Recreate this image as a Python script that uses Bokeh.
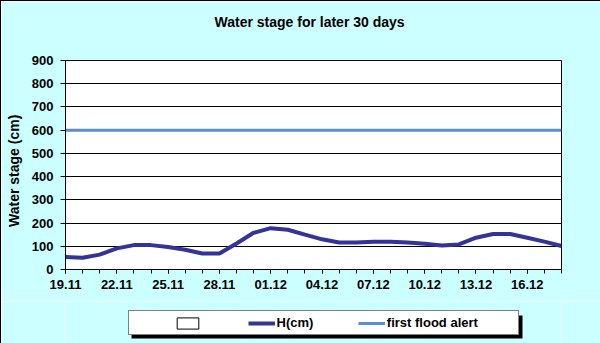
from bokeh.plotting import figure
from bokeh.layouts import column
from bokeh.models import (Range1d, FixedTicker, Legend, LegendItem,
                          ColumnDataSource, BoxAnnotation, Title)
from bokeh.embed import file_html
from bokeh.resources import INLINE

# ---- data ----
dates = ["19.11", "20.11", "21.11", "22.11", "23.11", "24.11", "25.11", "26.11",
         "27.11", "28.11", "29.11", "30.11", "01.12", "02.12", "03.12", "04.12",
         "05.12", "06.12", "07.12", "08.12", "09.12", "10.12", "11.12", "12.12",
         "13.12", "14.12", "15.12", "16.12", "17.12", "18.12"]
h_cm = [54, 51, 64, 91, 105, 105, 97, 85, 69, 69, 112, 158, 178, 171, 150, 130,
        116, 116, 120, 120, 116, 111, 103, 108, 137, 153, 153, 137, 120, 101]
alert_cm = [600] * len(dates)
y_ticks = [0, 100, 200, 300, 400, 500, 600, 700, 800, 900]
series_names = ["", "H(cm)", "first flood alert"]
chart_title = "Water stage for later 30 days"
y_title = "Water stage (cm)"

idx = list(range(len(dates)))
label_idx = idx[::3]

BG = "#CCFFFF"
FONT = "Liberation Sans"
FS = "13px"
NB = "\u00a0"
H_COLOR = "#333399"
A_COLOR = "#5B8ED6"

# ================= main chart =================
p = figure(width=600, height=300, output_backend="svg", toolbar_location=None,
           title=None,
           x_range=Range1d(0, len(dates) - 1), y_range=Range1d(0, 900),
           min_border_left=64, min_border_right=40, min_border_top=59,
           min_border_bottom=32)
p.background_fill_color = "white"
p.border_fill_color = BG
p.outline_line_color = "black"
p.outline_line_width = 1

# spacer title (closest to frame) then the real title above it
p.add_layout(Title(text=" ", text_font=FONT, text_font_size=FS, standoff=13),
             "above")
p.add_layout(Title(text=chart_title, align="left", offset=149,
                   vertical_align="middle",
                   text_font=FONT, text_font_style="bold", text_font_size="14px",
                   text_color="black", standoff=0), "above")

src = ColumnDataSource(dict(x=idx, h=h_cm, a=alert_cm))
p.line("x", "a", source=src, line_color=A_COLOR, line_width=3)
p.line("x", "h", source=src, line_color=H_COLOR, line_width=4)

p.xgrid.grid_line_color = None
p.ygrid.grid_line_color = "black"
p.ygrid.grid_line_width = 1
p.ygrid.ticker = FixedTicker(ticks=y_ticks)

ya = p.yaxis[0]
ya.ticker = FixedTicker(ticks=y_ticks)
ya.axis_label = y_title + NB * 3
ya.axis_label_text_font = FONT
ya.axis_label_text_font_style = "bold"
ya.axis_label_text_font_size = "14px"
ya.axis_label_text_color = "black"
ya.axis_label_standoff = 7
ya.major_label_text_font = FONT
ya.major_label_text_font_style = "bold"
ya.major_label_text_font_size = FS
ya.major_label_text_color = "black"
ya.major_tick_out = 5
ya.major_tick_in = 0
ya.minor_tick_out = 0
ya.minor_tick_in = 0
ya.major_label_standoff = 7
ya.axis_line_color = "black"
ya.major_tick_line_color = "black"

xa = p.xaxis[0]
xa.ticker = FixedTicker(ticks=label_idx, minor_ticks=idx)
xa.major_label_overrides = {i: dates[i] for i in label_idx}
xa.major_label_text_font = FONT
xa.major_label_text_font_style = "bold"
xa.major_label_text_font_size = FS
xa.major_label_text_color = "black"
xa.major_tick_out = 4
xa.major_tick_in = 0
xa.minor_tick_out = 4
xa.minor_tick_in = 0
xa.major_label_standoff = 6
xa.axis_line_color = "black"
xa.major_tick_line_color = "black"
xa.minor_tick_line_color = "black"

# ================= legend strip =================
lg = figure(width=600, height=43, output_backend="svg", toolbar_location=None,
            x_range=Range1d(0, 600), y_range=Range1d(0, 43),
            x_axis_location=None, y_axis_location=None,
            min_border_left=0, min_border_right=0, min_border_top=0,
            min_border_bottom=0)
lg.background_fill_color = BG
lg.border_fill_color = BG
lg.outline_line_color = None
lg.grid.visible = False

r_spacer = lg.line(x=[-100, -99], y=[-100, -100], line_alpha=0)
r_box = lg.rect(x=[-100], y=[-100], width=1, height=1, fill_color="white",
                line_color="black")
r_h = lg.line(x=[-100, -99], y=[-100, -100], line_color=H_COLOR, line_width=4)
r_a = lg.line(x=[-100, -99], y=[-100, -100], line_color=A_COLOR, line_width=3)

# legend shadow (frame of this strip is aligned with the chart frame: x0 = 64)
shadow = BoxAnnotation(left=66, right=457, bottom=6, top=29,
                       left_units="screen", right_units="screen",
                       top_units="screen", bottom_units="screen",
                       fill_color="black", fill_alpha=1, line_color=None)
lg.add_layout(shadow)

legend = Legend(items=[LegendItem(label="", renderers=[r_spacer]),
                       LegendItem(label=series_names[0] + NB * 9, renderers=[r_box]),
                       LegendItem(label=series_names[1] + NB * 9, renderers=[r_h]),
                       LegendItem(label=series_names[2] + NB * 10, renderers=[r_a])],
                orientation="horizontal", location=(63, 9),
                border_line_color="black", border_line_width=1,
                background_fill_color="white", background_fill_alpha=1,
                label_text_font=FONT, label_text_font_size=FS,
                label_text_font_style="bold", label_text_color="black",
                glyph_width=27, glyph_height=14, label_standoff=2,
                label_width=0, spacing=12, padding=4, margin=0, label_height=14)
lg.add_layout(legend)

layout = column(p, lg, spacing=0, styles={"border": "1px solid black"})

open("out.html", "w").write(file_html(layout, INLINE))
